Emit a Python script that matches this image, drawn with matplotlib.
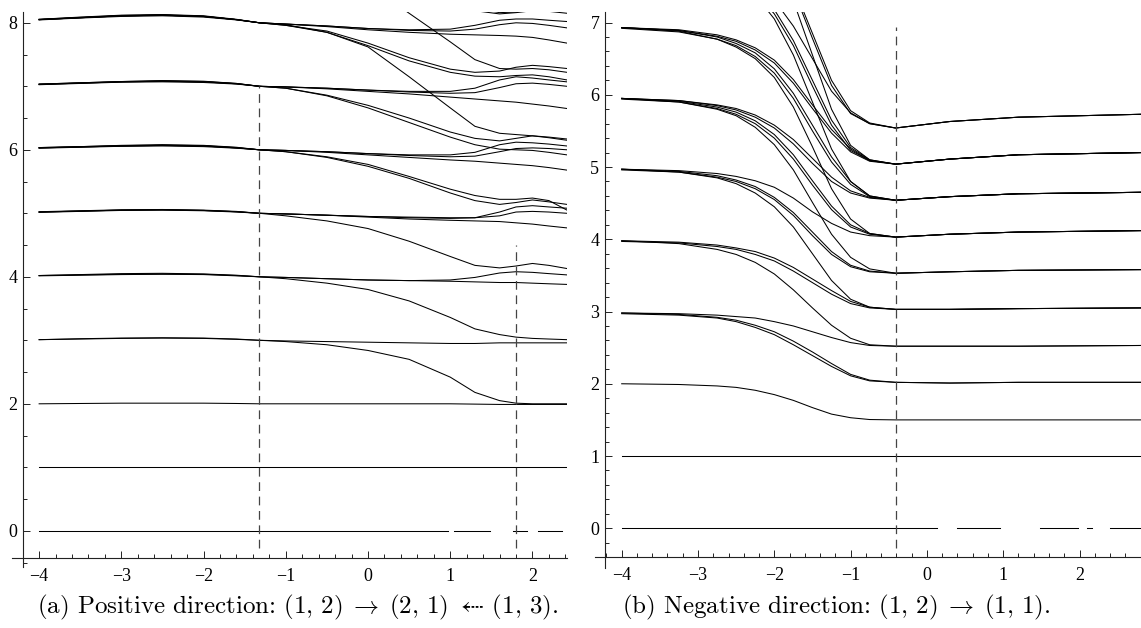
import matplotlib
matplotlib.use("Agg")
import matplotlib.pyplot as plt
from matplotlib.ticker import MultipleLocator

plt.rcParams['font.family'] = 'serif'
plt.rcParams['font.serif'] = ['Liberation Serif', 'DejaVu Serif']
plt.rcParams['mathtext.fontset'] = 'cm'
plt.rcParams['axes.unicode_minus'] = True

# ---------------- panel (a): positive direction ----------------
LX = [-4.0, -3.5, -3.0, -2.5, -2.0, -1.6, -1.32, -1.0, -0.5, 0.0, 0.5, 1.0, 1.3, 1.6, 1.8, 2.0, 2.2, 2.42]

L_band2 = [[2.00, 2.005, 2.01, 2.01, 2.01, 2.005, 2.0, 2.0, 2.0, 2.0, 2.0, 2.0, 1.995, 1.99, 1.99, 1.99, 1.99, 1.99]]
L_band3 = [
    [3.01, 3.02, 3.03, 3.035, 3.03, 3.015, 3.0, 2.99, 2.98, 2.97, 2.96, 2.95, 2.95, 2.96, 2.96, 2.96, 2.96, 2.96],
    [3.01, 3.025, 3.035, 3.04, 3.035, 3.02, 3.0, 2.98, 2.93, 2.84, 2.70, 2.42, 2.18, 2.05, 2.01, 2.00, 2.00, 2.00],
]
L_band4 = [
    [4.02, 4.03, 4.04, 4.045, 4.04, 4.02, 4.0, 3.99, 3.97, 3.95, 3.94, 3.95, 3.99, 4.06, 4.08, 4.07, 4.05, 4.03],
    [4.02, 4.035, 4.05, 4.055, 4.045, 4.025, 4.0, 3.99, 3.97, 3.95, 3.94, 3.93, 3.92, 3.91, 3.91, 3.90, 3.89, 3.88],
    [4.015, 4.025, 4.035, 4.04, 4.035, 4.015, 4.0, 3.97, 3.90, 3.80, 3.62, 3.36, 3.18, 3.09, 3.05, 3.03, 3.02, 3.01],
]
L_band5 = [
    [5.02, 5.035, 5.05, 5.055, 5.045, 5.025, 5.0, 4.99, 4.97, 4.95, 4.93, 4.92, 4.93, 5.02, 5.10, 5.12, 5.10, 5.08],
    [5.025, 5.04, 5.055, 5.06, 5.05, 5.03, 5.0, 4.99, 4.97, 4.95, 4.94, 4.93, 4.93, 4.96, 5.02, 5.03, 5.02, 5.00],
    [5.015, 5.03, 5.045, 5.05, 5.04, 5.02, 5.0, 4.99, 4.97, 4.94, 4.91, 4.89, 4.88, 4.87, 4.85, 4.83, 4.80, 4.77],
    [5.02, 5.035, 5.05, 5.055, 5.045, 5.025, 5.0, 4.96, 4.88, 4.76, 4.56, 4.32, 4.18, 4.14, 4.17, 4.21, 4.18, 4.13],
]
L_band6 = [
    [6.03, 6.045, 6.06, 6.07, 6.06, 6.03, 6.0, 5.99, 5.97, 5.94, 5.92, 5.92, 5.96, 6.08, 6.12, 6.11, 6.09, 6.06],
    [6.035, 6.05, 6.07, 6.08, 6.07, 6.04, 6.0, 5.99, 5.97, 5.94, 5.91, 5.89, 5.90, 5.97, 6.02, 6.03, 6.02, 6.00],
    [6.025, 6.04, 6.055, 6.06, 6.05, 6.025, 6.0, 5.99, 5.96, 5.92, 5.88, 5.84, 5.82, 5.79, 5.77, 5.75, 5.72, 5.68],
    [6.03, 6.045, 6.06, 6.07, 6.06, 6.03, 6.0, 5.97, 5.88, 5.74, 5.55, 5.32, 5.20, 5.14, 5.17, 5.21, 5.18, 5.14],
    [6.035, 6.05, 6.065, 6.075, 6.065, 6.035, 6.0, 5.97, 5.89, 5.77, 5.58, 5.38, 5.28, 5.22, 5.22, 5.24, 5.20, 5.05],
]
L_band7 = [
    [7.03, 7.05, 7.07, 7.08, 7.07, 7.04, 7.0, 6.99, 6.97, 6.94, 6.92, 6.92, 6.97, 7.10, 7.15, 7.13, 7.10, 7.07],
    [7.035, 7.055, 7.075, 7.09, 7.08, 7.045, 7.0, 6.99, 6.97, 6.94, 6.91, 6.89, 6.90, 6.98, 7.04, 7.05, 7.03, 7.00],
    [7.025, 7.045, 7.065, 7.07, 7.06, 7.035, 7.0, 6.99, 6.96, 6.92, 6.88, 6.83, 6.80, 6.77, 6.75, 6.72, 6.69, 6.65],
    [7.03, 7.05, 7.07, 7.08, 7.07, 7.04, 7.0, 6.97, 6.86, 6.70, 6.50, 6.28, 6.18, 6.14, 6.18, 6.22, 6.19, 6.15],
    [7.035, 7.055, 7.075, 7.085, 7.075, 7.045, 7.0, 6.97, 6.85, 6.66, 6.43, 6.20, 6.08, 6.01, 6.00, 5.99, 5.96, 5.92],
]
L_band8 = [
    [8.05, 8.08, 8.11, 8.12, 8.10, 8.05, 8.0, 7.98, 7.95, 7.91, 7.89, 7.90, 7.96, 8.04, 8.06, 8.06, 8.04, 8.02],
    [8.055, 8.09, 8.12, 8.13, 8.11, 8.055, 8.0, 7.98, 7.95, 7.91, 7.88, 7.87, 7.90, 7.97, 8.00, 7.99, 7.96, 7.92],
    [8.045, 8.075, 8.10, 8.11, 8.09, 8.045, 8.0, 7.98, 7.94, 7.89, 7.85, 7.82, 7.81, 7.80, 7.79, 7.77, 7.73, 7.68],
    [8.05, 8.08, 8.11, 8.12, 8.10, 8.05, 8.0, 7.96, 7.87, 7.68, 7.45, 7.27, 7.22, 7.24, 7.30, 7.33, 7.31, 7.28],
    [8.055, 8.085, 8.115, 8.125, 8.105, 8.05, 8.0, 7.96, 7.85, 7.64, 7.40, 7.22, 7.16, 7.15, 7.17, 7.18, 7.15, 7.10],
    [8.05, 8.08, 8.11, 8.12, 8.10, 8.05, 8.0, 7.97, 7.85, 7.62, 7.15, 6.66, 6.37, 6.26, 6.24, 6.22, 6.20, 6.17],
]
L_band9 = [
    [9.05, 9.08, 9.11, 9.12, 9.10, 9.05, 9.0, 8.97, 8.85, 8.60, 8.15, 7.70, 7.42, 7.28, 7.27, 7.28, 7.26, 7.22],
    [9.05, 9.08, 9.11, 9.12, 9.10, 9.05, 9.0, 8.99, 8.92, 8.75, 8.48, 8.27, 8.19, 8.14, 8.16, 8.19, 8.18, 8.15],
    [9.05, 9.08, 9.11, 9.12, 9.10, 9.05, 9.0, 8.99, 8.94, 8.80, 8.55, 8.35, 8.23, 8.16, 8.17, 8.21, 8.22, 8.20],
]
L_one = ([-4.0, 2.42], [1.0, 1.0])
L_zero_pieces = [(-4.0, 0.97), (1.04, 1.48), (1.76, 1.93), (2.07, 2.36)]
L_dashed = [(-1.32, 7.0), (1.80, 4.5)]   # x position, top of the dashed guide

# ---------------- panel (b): negative direction ----------------
RX = [-4.0, -3.25, -2.75, -2.5, -2.25, -2.0, -1.75, -1.5, -1.25, -1.0, -0.75, -0.41, 0.3, 1.2, 2.8]

R_band2 = [[2.0, 1.99, 1.97, 1.95, 1.91, 1.85, 1.77, 1.67, 1.58, 1.53, 1.505, 1.5, 1.5, 1.5, 1.5]]
R_band3 = [
    [2.98, 2.96, 2.92, 2.88, 2.81, 2.72, 2.59, 2.44, 2.28, 2.13, 2.05, 2.02, 2.01, 2.02, 2.02],
    [2.97, 2.95, 2.91, 2.86, 2.78, 2.68, 2.54, 2.39, 2.24, 2.11, 2.04, 2.02, 2.01, 2.02, 2.02],
    [2.98, 2.97, 2.95, 2.93, 2.91, 2.86, 2.80, 2.72, 2.64, 2.57, 2.53, 2.52, 2.52, 2.52, 2.53],
]
R_band4 = [
    [3.98, 3.94, 3.86, 3.79, 3.68, 3.52, 3.30, 3.05, 2.81, 2.63, 2.54, 2.52, 2.52, 2.52, 2.53],
    [3.98, 3.96, 3.92, 3.88, 3.83, 3.74, 3.61, 3.45, 3.29, 3.14, 3.06, 3.03, 3.03, 3.04, 3.05],
    [3.97, 3.95, 3.90, 3.86, 3.79, 3.70, 3.56, 3.40, 3.24, 3.11, 3.05, 3.03, 3.03, 3.04, 3.05],
]
R_band5 = [
    [4.97, 4.93, 4.85, 4.77, 4.64, 4.45, 4.17, 3.80, 3.43, 3.17, 3.06, 3.03, 3.03, 3.04, 3.05],
    [4.97, 4.94, 4.88, 4.82, 4.73, 4.58, 4.37, 4.10, 3.83, 3.64, 3.56, 3.53, 3.55, 3.57, 3.58],
    [4.96, 4.93, 4.86, 4.80, 4.70, 4.55, 4.33, 4.05, 3.79, 3.62, 3.55, 3.53, 3.55, 3.57, 3.58],
    [4.97, 4.95, 4.91, 4.87, 4.81, 4.72, 4.57, 4.38, 4.22, 4.10, 4.05, 4.03, 4.07, 4.10, 4.12],
]
R_band6 = [
    [5.95, 5.90, 5.80, 5.71, 5.55, 5.31, 4.96, 4.51, 4.07, 3.75, 3.59, 3.53, 3.55, 3.57, 3.58],
    [5.95, 5.91, 5.83, 5.76, 5.64, 5.45, 5.17, 4.81, 4.46, 4.20, 4.08, 4.03, 4.07, 4.10, 4.12],
    [5.94, 5.90, 5.81, 5.73, 5.60, 5.40, 5.11, 4.75, 4.41, 4.17, 4.07, 4.03, 4.07, 4.10, 4.12],
    [5.95, 5.92, 5.86, 5.81, 5.72, 5.58, 5.38, 5.12, 4.86, 4.67, 4.58, 4.54, 4.59, 4.63, 4.65],
    [5.95, 5.92, 5.85, 5.79, 5.69, 5.54, 5.32, 5.05, 4.80, 4.64, 4.57, 4.54, 4.59, 4.63, 4.65],
]
R_band7 = [
    [6.93, 6.88, 6.77, 6.66, 6.50, 6.24, 5.83, 5.28, 4.70, 4.28, 4.08, 4.03, 4.07, 4.10, 4.12],
    [6.93, 6.89, 6.80, 6.71, 6.58, 6.36, 6.02, 5.58, 5.14, 4.80, 4.60, 4.54, 4.59, 4.63, 4.65],
    [6.92, 6.87, 6.77, 6.68, 6.53, 6.30, 5.95, 5.50, 5.07, 4.76, 4.59, 4.54, 4.59, 4.63, 4.65],
    [6.93, 6.90, 6.83, 6.76, 6.65, 6.48, 6.21, 5.86, 5.52, 5.25, 5.09, 5.04, 5.11, 5.17, 5.20],
    [6.93, 6.89, 6.81, 6.74, 6.62, 6.44, 6.16, 5.81, 5.47, 5.21, 5.08, 5.04, 5.11, 5.17, 5.20],
]
R_band8 = [
    [7.92, 7.85, 7.72, 7.58, 7.38, 7.05, 6.55, 5.90, 5.25, 4.80, 4.60, 4.54, 4.59, 4.63, 4.65],
    [7.92, 7.86, 7.75, 7.63, 7.46, 7.18, 6.75, 6.20, 5.65, 5.27, 5.10, 5.04, 5.11, 5.17, 5.20],
    [7.92, 7.85, 7.73, 7.60, 7.42, 7.12, 6.68, 6.12, 5.58, 5.23, 5.09, 5.04, 5.11, 5.17, 5.20],
    [7.92, 7.87, 7.78, 7.68, 7.54, 7.31, 6.95, 6.50, 6.05, 5.75, 5.60, 5.54, 5.63, 5.69, 5.73],
]
R_band9 = [
    [8.90, 8.82, 8.67, 8.51, 8.28, 7.90, 7.30, 6.55, 5.80, 5.30, 5.10, 5.04, 5.11, 5.17, 5.20],
    [8.90, 8.83, 8.70, 8.56, 8.36, 8.02, 7.50, 6.85, 6.20, 5.78, 5.61, 5.54, 5.63, 5.69, 5.73],
    [8.90, 8.83, 8.69, 8.55, 8.34, 7.99, 7.45, 6.78, 6.13, 5.74, 5.60, 5.54, 5.63, 5.69, 5.73],
]
R_one = ([-4.0, 2.8], [1.0, 1.0])
R_zero_pieces = [(-4.0, 0.13), (0.40, 0.96), (1.48, 1.98), (2.10, 2.16), (2.40, 2.8)]
R_dashed = [(-0.41, 6.94)]

cap_a = r"(a) Positive direction: $(1,\,2)\;\rightarrow\;(2,\,1)\,$ $⇠$ $(1,\,3)$."
cap_b = r"(b) Negative direction: $(1,\,2)\;\rightarrow\;(1,\,1)$."

LW = 0.75
AXC = "#222222"


def draw_panel(ax, xs, bands, one, zero_pieces, dashed, dash_bottom):
    for band in bands:
        for ys in band:
            ax.plot(xs, ys, color="k", lw=LW)
    ax.plot(one[0], one[1], color="k", lw=LW)
    for a, b in zero_pieces:
        ax.plot([a, b], [0, 0], color="k", lw=LW)
    for x, top in dashed:
        ax.plot([x, x], [dash_bottom, top], color="#444444", lw=0.9,
                linestyle=(0, (7, 4.5)))


def style_axes(ax, xlim, ylim, spine_x, spine_y, ymaj, ymin):
    ax.set_xlim(*xlim)
    ax.set_ylim(*ylim)
    ax.spines["top"].set_visible(False)
    ax.spines["right"].set_visible(False)
    ax.spines["left"].set_position(("data", spine_x))
    ax.spines["bottom"].set_position(("data", spine_y))
    for s in ("left", "bottom"):
        ax.spines[s].set_color(AXC)
        ax.spines[s].set_linewidth(0.8)
    ax.xaxis.set_major_locator(MultipleLocator(1))
    ax.xaxis.set_minor_locator(MultipleLocator(0.2))
    ax.yaxis.set_major_locator(MultipleLocator(ymaj))
    ax.yaxis.set_minor_locator(MultipleLocator(ymin))
    ax.tick_params(which="both", direction="in", color=AXC, width=0.7, labelsize=13)
    ax.tick_params(which="major", length=5)
    ax.tick_params(which="minor", length=2.6)
    ax.tick_params(axis="x", which="major", pad=7)
    ax.tick_params(axis="y", which="major", pad=4)


fig = plt.figure(figsize=(11.41, 6.28), dpi=100)

# left panel: x from -4.33 to 2.42, y from -0.57 to 8.17
ax1 = fig.add_axes([12 / 1141, 1 - 567 / 628, 555 / 1141, 555 / 628])
draw_panel(ax1, LX, [L_band2, L_band3, L_band4, L_band5, L_band6, L_band7, L_band8, L_band9],
           L_one, L_zero_pieces, L_dashed, -0.27)
style_axes(ax1, (-4.33, 2.42), (-0.57, 8.17), -4.195, -0.43, 2, 0.5)

# right panel: x from -4.35 to 2.806, y from -0.55 to 7.15
ax2 = fig.add_axes([595 / 1141, 1 - 568 / 628, 546 / 1141, 556.3 / 628])
draw_panel(ax2, RX, [R_band2, R_band3, R_band4, R_band5, R_band6, R_band7, R_band8, R_band9],
           R_one, R_zero_pieces, R_dashed, -0.28)
style_axes(ax2, (-4.35, 2.806), (-0.55, 7.15), -4.22, -0.40, 1, 0.2)

fig.text(298 / 1141, 1 - 607 / 628, cap_a, ha="center", va="center",
         fontsize=18, family="cmr10")
fig.text(836 / 1141, 1 - 607 / 628, cap_b, ha="center", va="center",
         fontsize=18, family="cmr10")

fig.savefig("out.png", dpi=100)
